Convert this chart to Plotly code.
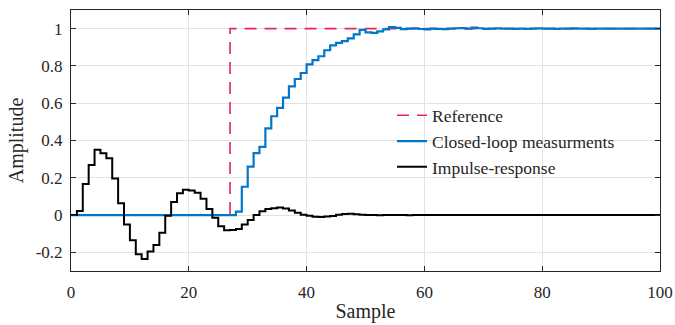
import plotly.graph_objects as go

samples = list(range(0, 101))

reference = [0.0] * 27 + [1.0] * 74

closed_loop = (
    [0.0] * 28 +
    [0.018, 0.152, 0.26, 0.332, 0.366, 0.465, 0.53, 0.575, 0.63, 0.69,
     0.73, 0.762, 0.808, 0.831, 0.852, 0.884, 0.91, 0.924, 0.933, 0.948,
     0.969, 0.993, 0.98, 0.977, 0.985, 0.996, 1.008, 1.004, 0.997, 1.0,
     1.001, 0.998, 0.996, 1.0, 0.999, 0.997, 1.0, 1.002, 1.003, 1.0,
     1.005, 1.002, 0.999, 1.0, 1.001, 1.0, 1.0, 0.999, 1.0, 0.998,
     1.0, 1.001, 1.0, 1.0, 0.999, 1.0, 1.0, 1.001, 1.0, 1.0,
     0.999, 1.0, 1.0, 1.0, 1.0, 1.0, 1.0, 1.0, 1.0, 1.0,
     1.0, 1.0, 1.0]
)

impulse = [
    0.0, 0.022, 0.167, 0.269, 0.35, 0.332, 0.305, 0.196, 0.063, -0.05,
    -0.135, -0.21, -0.235, -0.195, -0.16, -0.095, -0.003, 0.07, 0.117, 0.136,
    0.132, 0.12, 0.088, 0.033, -0.015, -0.06, -0.082, -0.08, -0.075, -0.05,
    -0.027, 0.0, 0.02, 0.032, 0.036, 0.04, 0.035, 0.025, 0.012, 0.002,
    -0.004, -0.009, -0.01, -0.008, -0.005, 0.002, 0.006, 0.007, 0.004, 0.002,
    0.001, 0.0, -0.001, 0.0, 0.001, 0.0, 0.0, -0.001, 0.0, 0.0,
    0.0, 0.001, 0.0, 0.0, 0.0, 0.0, 0.0, 0.0, 0.0, 0.0,
    0.0, 0.0, 0.0, 0.0, 0.0, 0.0, 0.0, 0.0, 0.0, 0.0,
    0.0, 0.0, 0.0, 0.0, 0.0, 0.0, 0.0, 0.0, 0.0, 0.0,
    0.0, 0.0, 0.0, 0.0, 0.0, 0.0, 0.0, 0.0, 0.0, 0.0,
    0.0,
]

x_ticks = [0, 20, 40, 60, 80, 100]
y_ticks = [-0.2, 0, 0.2, 0.4, 0.6, 0.8, 1]
y_tick_labels = ["-0.2", "0", "0.2", "0.4", "0.6", "0.8", "1"]

FONT = "Liberation Serif, serif"

fig = go.Figure()
fig.add_trace(go.Scatter(
    x=samples, y=reference, mode="lines", name="Reference",
    line=dict(color="#E3285A", width=1.6, dash="12px,8px", shape="hv"),
))
fig.add_trace(go.Scatter(
    x=samples, y=closed_loop, mode="lines", name="Closed-loop measurments",
    line=dict(color="#0077C8", width=2.2, shape="hv"),
))
fig.add_trace(go.Scatter(
    x=samples, y=impulse, mode="lines", name="Impulse-response",
    line=dict(color="#000000", width=2.0, shape="hv"),
))

fig.update_layout(
    width=675, height=325,
    margin=dict(l=71, r=15, t=10, b=54, autoexpand=False),
    paper_bgcolor="white", plot_bgcolor="white",
    font=dict(family=FONT, color="#262626", size=17),
    showlegend=True,
    legend=dict(
        x=0.545, y=0.665, xanchor="left", yanchor="top",
        bgcolor="rgba(0,0,0,0)", borderwidth=0,
        font=dict(family=FONT, size=17.5, color="#262626"),
        tracegroupgap=0,
    ),
)
fig.update_xaxes(
    range=[0, 100], tickvals=x_ticks, ticktext=[str(v) for v in x_ticks],
    showgrid=True, gridcolor="#E3E3E3", gridwidth=1,
    showline=True, linecolor="#262626", linewidth=1, mirror="ticks",
    ticks="inside", ticklen=5, tickcolor="#262626",
    zeroline=False, ticklabelstandoff=6,
    title=dict(text="Sample", font=dict(family=FONT, size=20), standoff=2),
    tickfont=dict(family=FONT, size=17),
)
fig.update_yaxes(
    range=[-0.3, 1.1], tickvals=y_ticks, ticktext=y_tick_labels,
    showgrid=True, gridcolor="#E3E3E3", gridwidth=1,
    showline=True, linecolor="#262626", linewidth=1, mirror="ticks",
    ticks="inside", ticklen=5, tickcolor="#262626",
    zeroline=False, ticklabelstandoff=4,
    title=dict(text="Amplitude", font=dict(family=FONT, size=20), standoff=6),
    tickfont=dict(family=FONT, size=17),
)

fig.write_html(
    "out.html",
    config={"displayModeBar": False},
    post_script="document.body.style.margin='0';",
)
